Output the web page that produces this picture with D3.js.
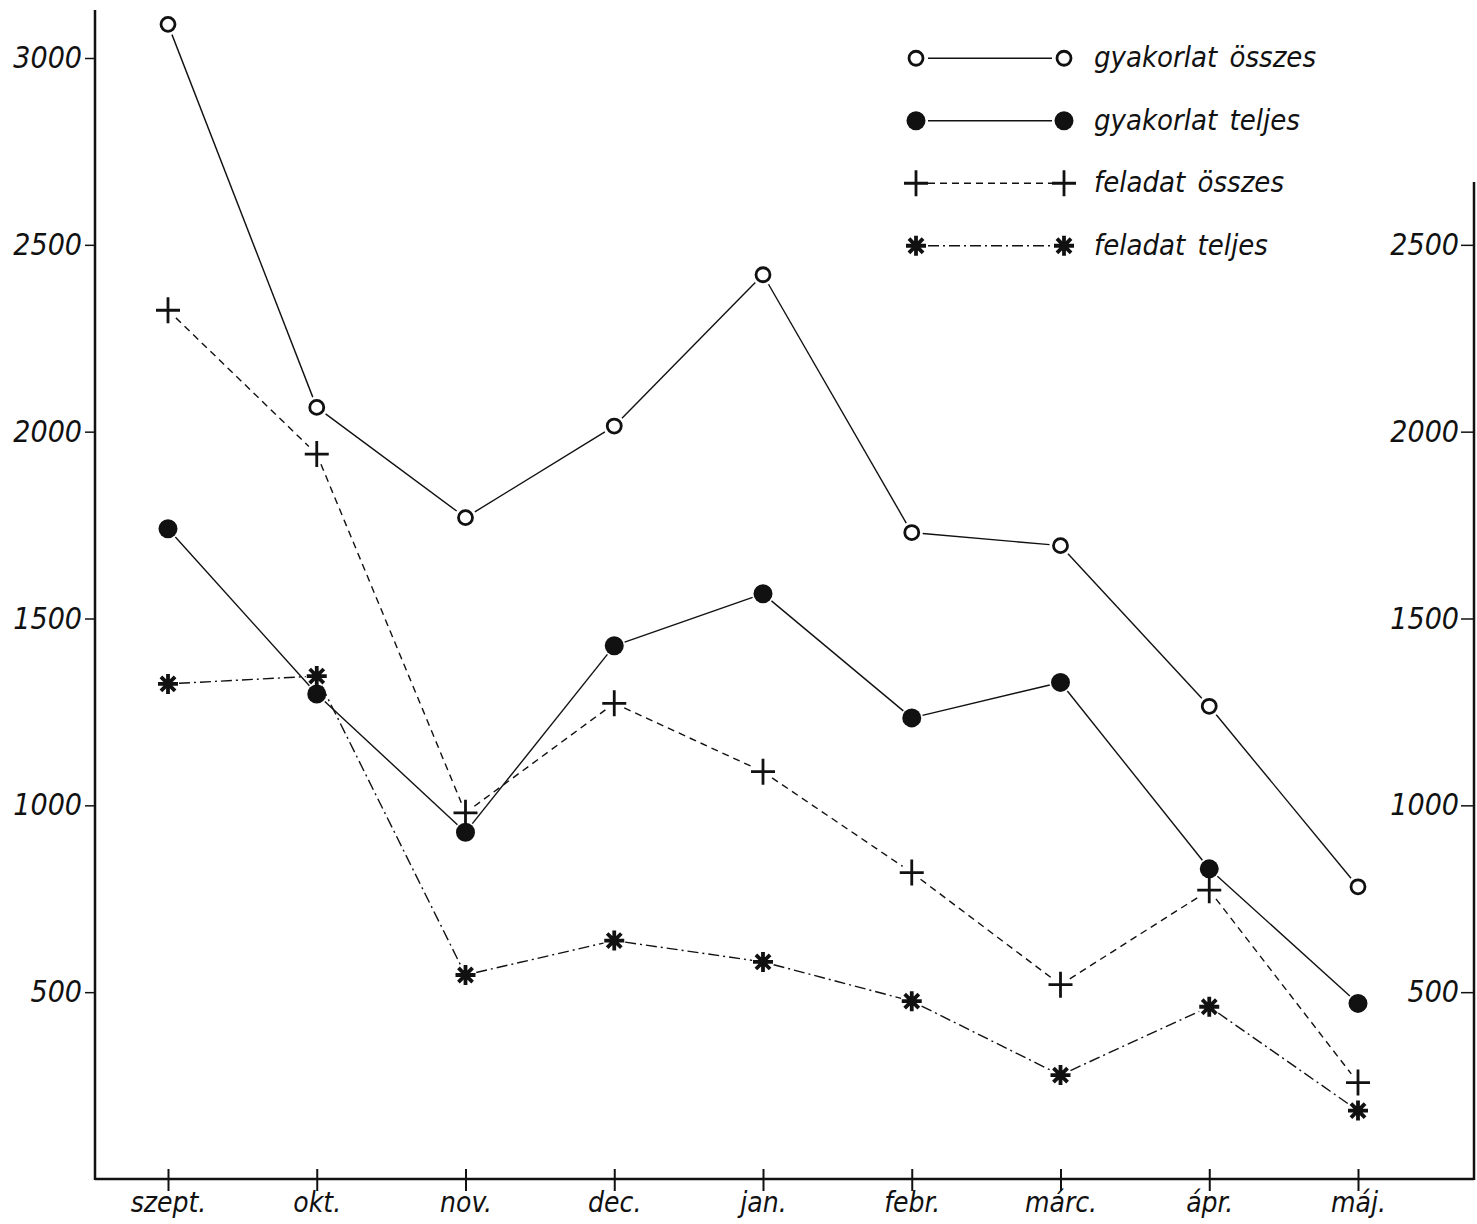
<!DOCTYPE html>
<html>
<head>
<meta charset="utf-8">
<script src="https://cdn.jsdelivr.net/npm/d3@7"></script>
<style>
  body { margin: 0; background: #fff; }
  svg { display: block; }
  text { font-family: "DejaVu Sans Condensed", "DejaVu Sans", sans-serif; font-style: italic; fill: #111; }
</style>
</head>
<body>
<div id="chart"></div>
<script>
const months = ["szept.", "okt.", "nov.", "dec.", "jan.", "febr.", "márc.", "ápr.", "máj."]
const gyakorlatOsszes = [3090, 2065, 1770, 2015, 2420, 1730, 1695, 1265, 782]
const gyakorlatTeljes = [1740, 1298, 928, 1427, 1566, 1234, 1329, 830, 470]
const feladatOsszes = [2325, 1940, 980, 1273, 1090, 820, 520, 773, 258]
const feladatTeljes = [1325, 1346, 546, 638, 581, 476, 278, 461, 183]
const leftTicks = [500, 1000, 1500, 2000, 2500, 3000]
const rightTicks = [500, 1000, 1500, 2000, 2500]

const series = [
  { name: "gyakorlat összes", values: gyakorlatOsszes, marker: "open", dash: null },
  { name: "gyakorlat teljes", values: gyakorlatTeljes, marker: "filled", dash: null },
  { name: "feladat összes", values: feladatOsszes, marker: "plus", dash: "7,5" },
  { name: "feladat teljes", values: feladatTeljes, marker: "star", dash: "11,4,2,4" }
]

const W = 1477, H = 1224
const ink = "#111"

const svg = d3.select("#chart").append("svg")
  .attr("width", W)
  .attr("height", H)

const x = d3.scalePoint().domain(months).range([168, 1358])
const y = d3.scaleLinear().domain([0, 3000]).range([1179, 58])

const leftX = 95, rightX = 1474

// axes frame
const axisG = svg.append("g").attr("stroke", ink).attr("fill", "none")
axisG.append("line").attr("x1", leftX).attr("x2", leftX).attr("y1", 10).attr("y2", y(0) + 1).attr("stroke-width", 2.5)
axisG.append("line").attr("x1", rightX).attr("x2", rightX).attr("y1", 182).attr("y2", y(0) + 1).attr("stroke-width", 2.5)
axisG.append("line").attr("x1", leftX).attr("x2", rightX).attr("y1", y(0)).attr("y2", y(0)).attr("stroke-width", 2.5)

// left axis
const yLeft = d3.axisLeft(y).tickValues(leftTicks).tickSize(10).tickPadding(3).tickFormat(d3.format("d"))
svg.append("g")
  .attr("transform", `translate(${leftX},0)`)
  .call(yLeft)
  .call(g => g.select(".domain").remove())
  .call(g => g.selectAll("line").attr("stroke", ink).attr("stroke-width", 1.5))
  .call(g => g.selectAll("text").attr("font-size", 30).attr("fill", ink)
    .attr("font-family", "DejaVu Sans Condensed").attr("font-style", "italic"))

// right axis (ticks + labels on inner side)
const yRight = d3.axisLeft(y).tickValues(rightTicks).tickSize(13).tickPadding(2).tickFormat(d3.format("d"))
svg.append("g")
  .attr("transform", `translate(${rightX},0)`)
  .call(yRight)
  .call(g => g.select(".domain").remove())
  .call(g => g.selectAll("line").attr("stroke", ink).attr("stroke-width", 1.5))
  .call(g => g.selectAll("text").attr("font-size", 30).attr("fill", ink)
    .attr("font-family", "DejaVu Sans Condensed").attr("font-style", "italic"))

// bottom axis: ticks cross the axis line, labels sit low near the page edge
const xAxis = d3.axisBottom(x).tickSize(12)
svg.append("g")
  .attr("transform", `translate(0,${y(0)})`)
  .call(xAxis)
  .call(g => g.select(".domain").remove())
  .call(g => g.selectAll("line").attr("y1", -10).attr("stroke", ink).attr("stroke-width", 2))
  .call(g => g.selectAll("text").attr("y", 33).attr("dy", null)
    .attr("font-size", 28).attr("fill", ink)
    .attr("font-family", "DejaVu Sans Condensed").attr("font-style", "italic"))

// trimmed segment between two points so lines stop short of the markers
function trim(a, b, gap) {
  const dx = b[0] - a[0], dy = b[1] - a[1]
  const len = Math.hypot(dx, dy)
  const ux = dx / len, uy = dy / len
  return [[a[0] + ux * gap, a[1] + uy * gap], [b[0] - ux * gap, b[1] - uy * gap]]
}

const line = d3.line()

function drawMarker(g, type, px, py) {
  if (type === "open") {
    g.append("circle").attr("cx", px).attr("cy", py).attr("r", 7)
      .attr("fill", "#fff").attr("stroke", ink).attr("stroke-width", 2.8)
  } else if (type === "filled") {
    g.append("circle").attr("cx", px).attr("cy", py).attr("r", 9.5).attr("fill", ink)
  } else if (type === "plus") {
    g.append("path")
      .attr("d", `M${px - 12},${py}H${px + 12}M${px},${py - 13}V${py + 13}`)
      .attr("stroke", ink).attr("stroke-width", 2.8).attr("fill", "none")
  } else if (type === "star") {
    const r = 10
    let d = ""
    for (let k = 0; k < 4; k++) {
      const a = k * Math.PI / 4
      d += `M${px - r * Math.cos(a)},${py - r * Math.sin(a)}L${px + r * Math.cos(a)},${py + r * Math.sin(a)}`
    }
    g.append("path").attr("d", d).attr("stroke", ink).attr("stroke-width", 3.8).attr("fill", "none")
  }
}

const plot = svg.append("g")

series.forEach(s => {
  const pts = s.values.map((v, i) => [x(months[i]), y(v)])
  const g = plot.append("g")
  g.selectAll("path.seg")
    .data(d3.pairs(pts))
    .join("path")
      .attr("class", "seg")
      .attr("d", d => line(trim(d[0], d[1], 11)))
      .attr("fill", "none")
      .attr("stroke", ink)
      .attr("stroke-width", 1.4)
      .attr("stroke-dasharray", s.dash)
})

series.forEach(s => {
  const g = plot.append("g")
  s.values.forEach((v, i) => drawMarker(g, s.marker, x(months[i]), y(v)))
})

// legend
const legend = svg.append("g")
const legendRows = d3.scaleBand().domain(series.map(s => s.name)).range([27, 277])
series.forEach(s => {
  const cy = legendRows(s.name) + legendRows.bandwidth() / 2
  const a = [916, cy], b = [1064, cy]
  legend.append("path")
    .attr("d", line(trim(a, b, 12)))
    .attr("fill", "none").attr("stroke", ink).attr("stroke-width", 1.4)
    .attr("stroke-dasharray", s.dash)
  drawMarker(legend, s.marker, a[0], a[1])
  drawMarker(legend, s.marker, b[0], b[1])
  legend.append("text")
    .attr("x", 1094).attr("y", cy + 9)
    .attr("font-size", 29)
    .style("word-spacing", "4px")
    .text(s.name)
})
</script>
</body>
</html>
